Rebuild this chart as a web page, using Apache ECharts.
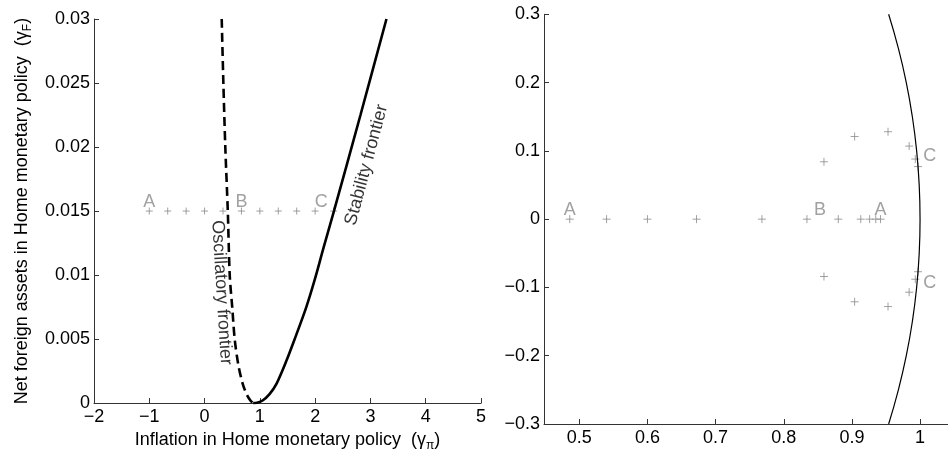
<!DOCTYPE html>
<html><head><meta charset="utf-8">
<script src="https://cdn.jsdelivr.net/npm/echarts@6/dist/echarts.min.js"></script>
<style>html,body{margin:0;padding:0;background:#fff}#c{width:948px;height:457px}</style>
</head><body><div id="c"></div>
<script>
// ---------- Left panel data ----------
const stabilityFrontier = [[0.88,0],[0.95,0.00003],[1.05,0.0002],[1.175,0.0007],[1.3,0.0015],[1.48,0.0033],[1.63,0.005],[1.84,0.0075],[1.99,0.0096],[2.15,0.0121],[2.34,0.015],[2.82,0.0225],[3.29,0.03]];
const oscillatoryFrontier = [[0.31,0.03],[0.34,0.025],[0.375,0.02],[0.42,0.015],[0.455,0.01],[0.50,0.0075],[0.545,0.005],[0.61,0.003],[0.69,0.0015],[0.76,0.0007],[0.83,0.0002],[0.88,0]];
const paramGammaPi = [-1,-0.6667,-0.3333,0,0.3333,0.6667,1,1.3333,1.6667,2,2.3333];
const paramGammaF = [0.015,0.015,0.015,0.015,0.015,0.015,0.015,0.015,0.015,0.015,0.015];
const leftLabelText = ['A','B','C'];
const leftLabelAt = [[-1,0.015],[0.6667,0.015],[2.0,0.015]];
const curveLabelText = ['Stability frontier','Oscillatory frontier'];
const curveLabelAt = [[2.93,0.0186],[0.307,0.00863]];
const leftXTicks = [-2,-1,0,1,2,3,4,5];
const leftYTicks = [0,0.005,0.01,0.015,0.02,0.025,0.03];

// ---------- Right panel data (eigenvalues) ----------
const realEigRe = [0.486,0.540,0.600,0.672,0.768,0.834,0.880,0.913,0.926,0.935,0.942];
const realEigIm = [0,0,0,0,0,0,0,0,0,0,0];
const complexEigRe = [0.859,0.904,0.953,0.984,0.993,0.997];
const complexEigImUpper = [0.084,0.121,0.128,0.107,0.088,0.077];
const complexEigImLower = [-0.084,-0.121,-0.128,-0.107,-0.088,-0.077];
const unitCircleArc = [[0.9539,0.3],[0.9682,0.25],[0.9798,0.2],[0.9887,0.15],[0.9950,0.1],[0.99875,0.05],[1,0],[0.99875,-0.05],[0.9950,-0.1],[0.9887,-0.15],[0.9798,-0.2],[0.9682,-0.25],[0.9539,-0.3]];
const rightLabelText = ['A','B','A','C','C'];
const rightLabelAt = [[0.486,0],[0.834,0],[0.942,0],[0.993,0.088],[0.993,-0.088]];
const rightXTicks = [0.5,0.6,0.7,0.8,0.9,1];
const rightYTicks = [-0.3,-0.2,-0.1,0,0.1,0.2,0.3];

const FONT = 'Liberation Sans, Arial, Helvetica, sans-serif';
const GRAY = '#8a8a8a';
const AXIS = '#333';
const FS = 18;
const minus = v => String(+v.toFixed(6)).replace('-', '\u2212');
const plusSym = 'path://M0,5H10M5,0V10';

const zip = (a, b) => a.map((v, i) => [v, b[i]]);

const leftLabelStyle = [
  {position:'top', distance:0},
  {position:'top', distance:0},
  {position:'top', distance:0, offset:[6,0]}
];
const rightLabelStyle = [
  {position:'top', distance:0},
  {position:'top', distance:0, offset:[13,0]},
  {position:'top', distance:0},
  {position:'right', distance:8, offset:[0,-3]},
  {position:'right', distance:8, offset:[0,4]}
];
const curveLabelRot = [75, -86.5];

const richName = {
  a: {fontSize: FS, fontFamily: FONT, color: '#000', lineHeight: 24, verticalAlign: 'middle'},
  b: {fontSize: 12, fontFamily: FONT, color: '#000', lineHeight: 12, verticalAlign: 'bottom'}
};

const axisCommon = {
  axisLine: {show: true, onZero: false, lineStyle: {color: AXIS, width: 1}},
  axisTick: {show: true, inside: true, length: 5, lineStyle: {color: AXIS}},
  splitLine: {show: false},
  axisLabel: {color: '#000', fontSize: FS, fontFamily: FONT, margin: 5, formatter: minus}
};

const chart = echarts.init(document.getElementById('c'), null, {renderer: 'canvas'});
chart.setOption({
  animation: false,
  backgroundColor: '#fff',
  textStyle: {fontFamily: FONT},
  grid: [
    {left: 94, top: 19, width: 387, height: 386},
    {left: 544, top: 14.3, width: 404, height: 409.7}
  ],
  xAxis: [
    Object.assign({}, axisCommon, {
      type: 'value', gridIndex: 0, min: -2, max: 5, interval: 1,
      name: '{a|Inflation in Home monetary policy  (\u03b3}{b|\u03c0}{a|)}',
      nameLocation: 'middle', nameGap: 24,
      nameTextStyle: {rich: richName}
    }),
    Object.assign({}, axisCommon, {
      type: 'value', gridIndex: 1, min: 0.4482, max: 1.041,
      axisTick: Object.assign({}, axisCommon.axisTick, {customValues: rightXTicks}),
      axisLabel: Object.assign({}, axisCommon.axisLabel, {customValues: rightXTicks})
    })
  ],
  yAxis: [
    Object.assign({}, axisCommon, {
      type: 'value', gridIndex: 0, min: 0, max: 0.03, interval: 0.005,
      axisLabel: Object.assign({}, axisCommon.axisLabel, {margin: 4}),
      name: '{a|Net foreign assets in Home monetary policy  (\u03b3}{b|F}{a|)}',
      nameLocation: 'middle', nameGap: 60, nameRotate: 90,
      nameTextStyle: {rich: richName}
    }),
    Object.assign({}, axisCommon, {
      type: 'value', gridIndex: 1, min: -0.3, max: 0.3, interval: 0.1,
      axisLabel: Object.assign({}, axisCommon.axisLabel, {margin: 4})
    })
  ],
  series: [
    {
      type: 'line', xAxisIndex: 0, yAxisIndex: 0, data: stabilityFrontier,
      showSymbol: false, smooth: 0.3, lineStyle: {color: '#000', width: 2.6}, z: 3
    },
    {
      type: 'line', xAxisIndex: 0, yAxisIndex: 0, data: oscillatoryFrontier,
      showSymbol: false, smooth: 0.3, lineStyle: {color: '#000', width: 2.6, type: [9, 5]}, z: 3
    },
    {
      type: 'scatter', xAxisIndex: 0, yAxisIndex: 0, data: zip(paramGammaPi, paramGammaF),
      symbol: plusSym, symbolSize: 7,
      itemStyle: {color: 'none', borderColor: GRAY, borderWidth: 1}, z: 2
    },
    {
      type: 'scatter', xAxisIndex: 0, yAxisIndex: 0, symbolSize: 0, silent: true,
      data: leftLabelAt.map((p, i) => ({value: p, name: leftLabelText[i],
        label: Object.assign({show: true, formatter: '{b}', color: GRAY, fontSize: FS, fontFamily: FONT}, leftLabelStyle[i])})),
      z: 4
    },
    {
      type: 'scatter', xAxisIndex: 0, yAxisIndex: 0, symbolSize: 0, silent: true,
      data: curveLabelAt.map((p, i) => ({value: p, name: curveLabelText[i],
        label: {show: true, formatter: '{b}', color: '#000', fontSize: FS, fontFamily: FONT,
          position: 'inside', align: 'center', verticalAlign: 'middle', rotate: curveLabelRot[i]}})),
      z: 4
    },
    {
      type: 'line', xAxisIndex: 1, yAxisIndex: 1, data: unitCircleArc,
      showSymbol: false, smooth: true, lineStyle: {color: '#000', width: 1.2}, z: 3
    },
    {
      type: 'scatter', xAxisIndex: 1, yAxisIndex: 1,
      data: zip(realEigRe, realEigIm).concat(zip(complexEigRe, complexEigImUpper), zip(complexEigRe, complexEigImLower)),
      symbol: plusSym, symbolSize: 8,
      itemStyle: {color: 'none', borderColor: GRAY, borderWidth: 1}, z: 2
    },
    {
      type: 'scatter', xAxisIndex: 1, yAxisIndex: 1, symbolSize: 0, silent: true,
      data: rightLabelAt.map((p, i) => ({value: p, name: rightLabelText[i],
        label: Object.assign({show: true, formatter: '{b}', color: GRAY, fontSize: FS, fontFamily: FONT}, rightLabelStyle[i])})),
      z: 4
    }
  ]
});
</script>
</body></html>
